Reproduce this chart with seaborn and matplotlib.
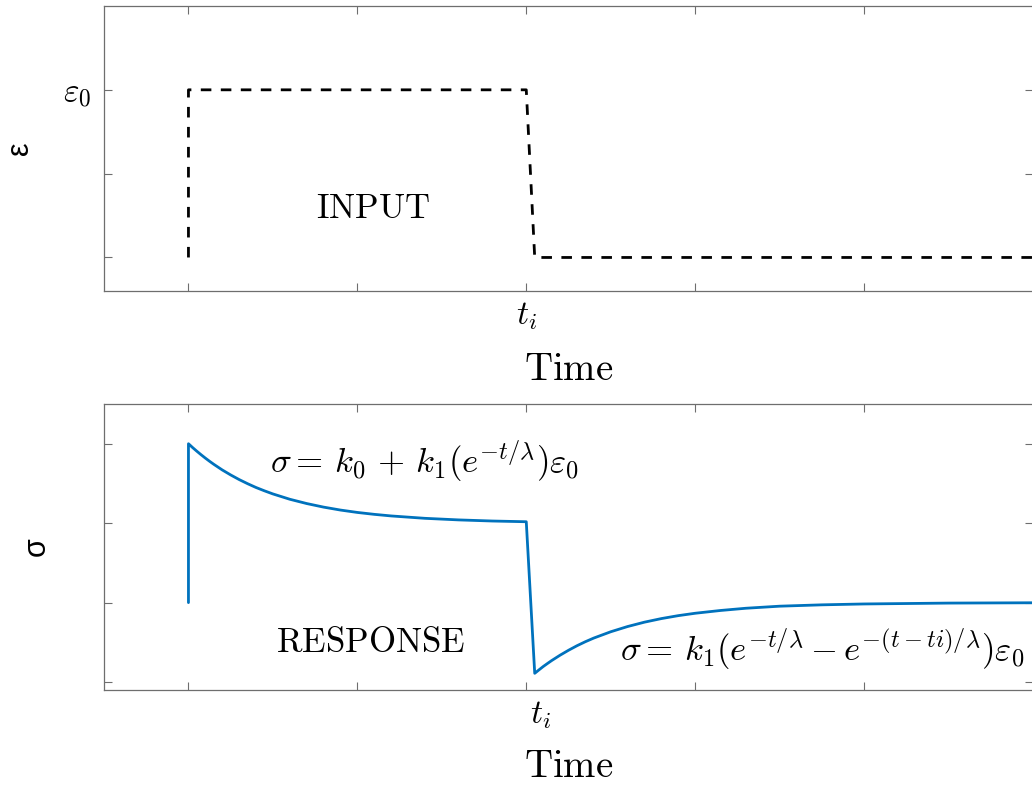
import matplotlib
matplotlib.use("Agg")
import pandas as pd
import matplotlib.pyplot as plt
import seaborn as sns
from matplotlib.transforms import ScaledTranslation

# Input strain history (time in tick units, t_i = 2)
t_input = [0.0, 0.0, 2.0, 2.05, 5.0]
eps_input = [0.0, 1.0, 1.0, 0.0, 0.0]

# Stress response
t_resp = [0.0, 0.0, 0.025, 0.05, 0.075, 0.1, 0.125, 0.15, 0.2, 0.25, 0.3, 0.35,
          0.4, 0.45, 0.5, 0.6, 0.7, 0.8, 0.9, 1.0, 1.1, 1.2, 1.4, 1.6, 1.8, 2.0,
          2.05, 2.075, 2.1, 2.125, 2.15, 2.2, 2.25, 2.3, 2.35, 2.4, 2.5, 2.6,
          2.7, 2.8, 2.9, 3.0, 3.15, 3.3, 3.5, 3.75, 4.0, 4.5, 5.0]
sigma_resp = [1.0, 3.0, 2.951, 2.905, 2.861, 2.819, 2.779, 2.741, 2.670, 2.607,
              2.549, 2.497, 2.449, 2.407, 2.368, 2.301, 2.247, 2.202, 2.165,
              2.135, 2.111, 2.091, 2.061, 2.041, 2.027, 2.018, 0.110, 0.153,
              0.195, 0.233, 0.270, 0.338, 0.400, 0.457, 0.508, 0.554, 0.633,
              0.699, 0.754, 0.799, 0.836, 0.866, 0.901, 0.929, 0.955, 0.972,
              0.983, 0.994, 0.998]

x_ticks = [0, 1, 2, 3, 4, 5]
x_ticklabels = ["", "", r"$t_i$", "", "", ""]
top_yticks = [0, 0.5, 1.0]
top_yticklabels = ["", "", r"$\varepsilon_0$"]
bot_yticks = [0, 1, 2, 3]

sns.set_style("ticks")
plt.rcParams["mathtext.fontset"] = "cm"
plt.rcParams["font.family"] = ["Liberation Sans", "DejaVu Sans"]
plt.rcParams["text.color"] = "black"
plt.rcParams["axes.labelcolor"] = "black"
plt.rcParams["xtick.labelcolor"] = "black"
plt.rcParams["ytick.labelcolor"] = "black"

W, H = 1032, 785
fig = plt.figure(figsize=(W / 100, H / 100), dpi=100)
ax1 = fig.add_axes([104 / W, 1 - 291 / H, 929 / W, 285 / H])
ax2 = fig.add_axes([104 / W, 1 - 690 / H, 929 / W, 286 / H])

spine_col = "#6e6e6e"
blue = "#0072BD"

df_in = pd.DataFrame({"t": t_input, "eps": eps_input})
sns.lineplot(data=df_in, x="t", y="eps", ax=ax1, sort=False, estimator=None,
             color="black", lw=2.0, linestyle=(0, (3.8, 3.4)))

df_resp = pd.DataFrame({"t": t_resp, "sigma": sigma_resp})
sns.lineplot(data=df_resp, x="t", y="sigma", ax=ax2, sort=False, estimator=None,
             color=blue, lw=2.0)

for ax in (ax1, ax2):
    ax.set_xlim(-0.5, 5.0)
    ax.set_xticks(x_ticks)
    ax.set_xticklabels(x_ticklabels)
    for sp in ax.spines.values():
        sp.set_color(spine_col)
        sp.set_linewidth(0.9)
    ax.tick_params(direction="in", length=6, width=0.8, color=spine_col,
                   top=True, right=True, labelsize=24, pad=7)
    ax.tick_params(axis="y", pad=9)
    ax.set_xlabel(r"$\mathrm{Time}$", fontsize=28)

ax1.xaxis.set_label_coords(0.5, -0.215)
ax2.xaxis.set_label_coords(0.5, -0.207)

ax1.set_ylim(-0.2, 1.5)
ax1.set_yticks(top_yticks)
ax1.set_yticklabels(top_yticklabels)
ax1.set_ylabel("ε", fontsize=22, va="center")
ax1.yaxis.set_label_coords(-0.0905, 0.5)
ax1.text(1.095, 0.235, r"$\mathrm{INPUT}$", fontsize=25, ha="center", va="baseline")

ax2.set_ylim(-0.1, 3.5)
ax2.set_yticks(bot_yticks)
ax2.set_yticklabels([])
ax2.set_ylabel("σ", fontsize=22, va="center")
ax2.yaxis.set_label_coords(-0.0722, 0.5)
ax2.text(1.077, 0.376, r"$\mathrm{RESPONSE}$", fontsize=25, ha="center", va="baseline")
ax2.text(0.485, 2.635, r"$\sigma =\, k_0 \,+\, k_1(e^{-t/\lambda})\varepsilon_0$",
         fontsize=25, ha="left", va="baseline")
ax2.text(4.95, 0.26, r"$\sigma =\, k_1(e^{-t/\lambda} - e^{-(t-ti)/\lambda})\varepsilon_0$",
         fontsize=25, ha="right", va="baseline")

# bottom t_i label sits a little right of its tick
shift = ScaledTranslation(14 / 100, 0, fig.dpi_scale_trans)
for lab in ax2.get_xticklabels():
    lab.set_transform(lab.get_transform() + shift)

fig.savefig("out.png", dpi=100)
